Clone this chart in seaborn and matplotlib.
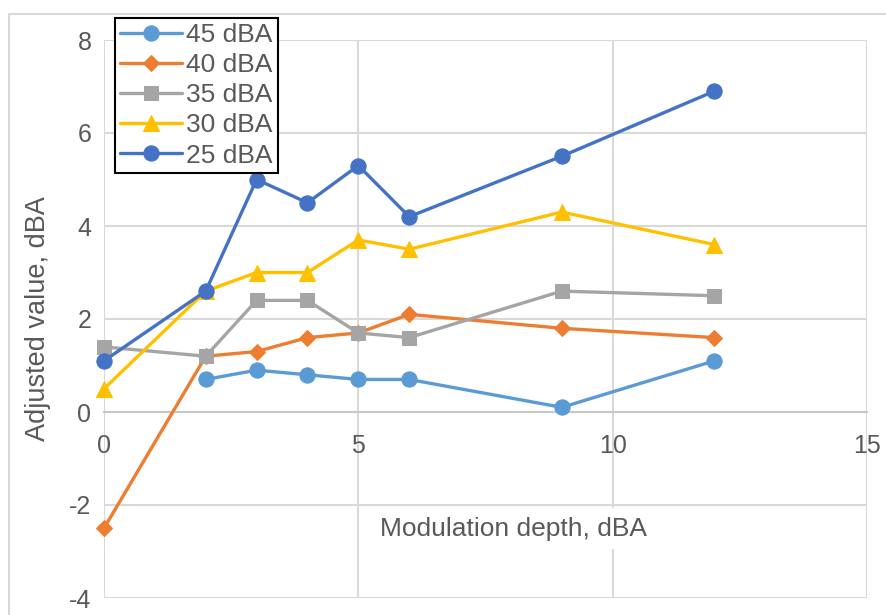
import matplotlib
matplotlib.use("Agg")
import matplotlib.pyplot as plt
import seaborn as sns
import pandas as pd
from matplotlib.patches import Rectangle

# Modulation depth (dBA) at which each level was measured
depth_45 = [2, 3, 4, 5, 6, 9, 12]
depth_all = [0, 2, 3, 4, 5, 6, 9, 12]

# Adjusted values (dBA) for each background level
adj_45 = [0.7, 0.9, 0.8, 0.7, 0.7, 0.1, 1.1]
adj_40 = [-2.5, 1.2, 1.3, 1.6, 1.7, 2.1, 1.8, 1.6]
adj_35 = [1.4, 1.2, 2.4, 2.4, 1.7, 1.6, 2.6, 2.5]
adj_30 = [0.5, 2.6, 3.0, 3.0, 3.7, 3.5, 4.3, 3.6]
adj_25 = [1.1, 2.6, 5.0, 4.5, 5.3, 4.2, 5.5, 6.9]

series_names = ["45 dBA", "40 dBA", "35 dBA", "30 dBA", "25 dBA"]
x_ticks = [0, 5, 10, 15]
x_tick_labels = ["0", "5", "10", "15"]
y_ticks = [-4, -2, 0, 2, 4, 6, 8]
y_tick_labels = ["-4", "-2", "0", "2", "4", "6", "8"]

series = [
    (series_names[0], depth_45, adj_45, "#5B9BD5", "o", 11),
    (series_names[1], depth_all, adj_40, "#ED7D31", "D", 8),
    (series_names[2], depth_all, adj_35, "#A5A5A5", "s", 9.5),
    (series_names[3], depth_all, adj_30, "#FFC000", "^", 11),
    (series_names[4], depth_all, adj_25, "#4472C4", "o", 11),
]

sns.set_theme(style="white")
plt.rcParams["font.family"] = ["Liberation Sans", "DejaVu Sans"]
plt.rcParams["axes.unicode_minus"] = False

text_color = "#595959"
grid_color = "#D9D9D9"

fig = plt.figure(figsize=(8.87, 6.15), dpi=100)
ax = fig.add_axes([104 / 887, 1 - 598 / 615, 763 / 887, 558 / 615])

# outer chart frame
fig.patches.append(Rectangle((9 / 887, -0.1), 1.2, 1 - 14 / 615 + 0.1,
                             transform=fig.transFigure, fill=False,
                             edgecolor=grid_color, linewidth=1.5, zorder=0))

for name, xs, ys, color, marker, ms in series:
    df = pd.DataFrame({"depth": xs, "value": ys})
    sns.lineplot(data=df, x="depth", y="value", ax=ax, color=color,
                 marker=marker, markersize=ms, markeredgecolor=color,
                 markerfacecolor=color, linewidth=2.4, label=name,
                 clip_on=False, zorder=3)

ax.set_xlim(0, 15)
ax.set_ylim(-4, 8)
ax.set_xticks(x_ticks)
ax.set_xticklabels(x_tick_labels)
ax.set_yticks(y_ticks)
ax.set_yticklabels(y_tick_labels)

ax.grid(True, color=grid_color, linewidth=1.5)
ax.set_axisbelow(True)
for side in ["top", "right", "left"]:
    ax.spines[side].set_visible(False)
ax.spines["bottom"].set_position(("data", 0))
ax.spines["bottom"].set_color("#C8C8C8")
ax.spines["bottom"].set_linewidth(1.5)

ax.tick_params(axis="x", length=0, pad=16, labelsize=18, labelcolor=text_color)
ax.tick_params(axis="y", length=0, pad=9, labelsize=18, labelcolor=text_color)

ax.set_ylabel("Adjusted value, dBA", fontsize=19.5, color=text_color)
ax.yaxis.set_label_coords(-0.0695, 0.5)
ax.set_xlabel("Modulation depth, dBA", fontsize=19, color=text_color,
              bbox=dict(facecolor="white", edgecolor="none", pad=6))
ax.xaxis.set_label_coords(0.5367, 0.146)

leg = ax.legend(loc="upper left", bbox_to_anchor=(115 / 887, 1 - 18 / 615),
                bbox_transform=fig.transFigure, fontsize=19, frameon=True,
                fancybox=False, edgecolor="black", framealpha=1,
                handlelength=2.35, handletextpad=0.15, labelspacing=0.23,
                borderpad=0.2, borderaxespad=0)
leg.get_frame().set_linewidth(1.5)
for t in leg.get_texts():
    t.set_color(text_color)

fig.savefig("out.png", dpi=100)
